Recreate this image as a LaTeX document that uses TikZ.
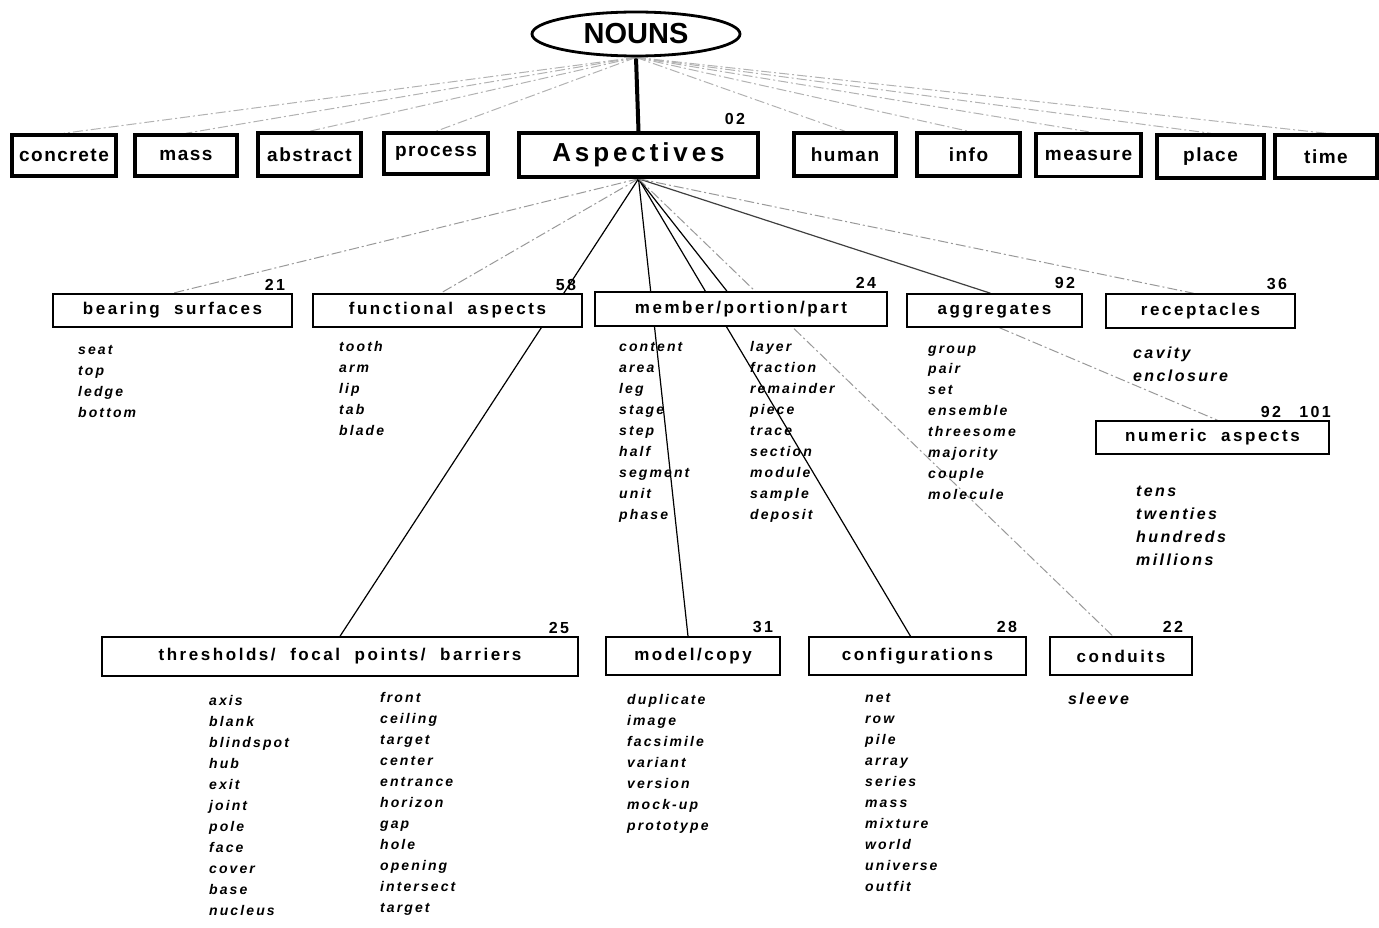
\documentclass[tikz,border=0pt]{standalone}
\usepackage{fontspec}
\setmainfont{Liberation Sans}
\newfontfamily\wide[LetterSpace=15,WordSpace=2]{Liberation Sans}
\newfontfamily\narrow[LetterSpace=8]{Liberation Sans}
\usetikzlibrary{shapes.geometric}
\pgfdeclarelayer{background}
\pgfsetlayers{background,main}

\begin{document}
\begin{tikzpicture}[x=1pt,y=-1pt,
  topbox/.style={draw, fill=white, line width=3.5pt, inner sep=0pt, minimum height=41pt,
    font=\narrow\bfseries\fontsize{19}{22}\selectfont},
  catbox/.style={draw, fill=white, line width=1.5pt, inner sep=0pt, minimum height=33pt,
    font=\wide\bfseries\fontsize{17}{20}\selectfont},
  code/.style={inner sep=0pt, font=\wide\bfseries\fontsize{16}{18}\selectfont},
  item/.style={inner sep=0pt, anchor=base west, font=\wide\bfseries\itshape\fontsize{14}{16}\selectfont},
  bigitem/.style={item, font=\wide\bfseries\itshape\fontsize{16}{18}\selectfont},
  link/.style={line width=1.2pt},
  faint/.style={line width=1pt, black!40, dash pattern=on 10pt off 3pt on 2pt off 3pt},
]
\useasboundingbox (0,0) rectangle (1379,928);

% root and first level
\node[draw, ellipse, line width=2.8pt, minimum width=208pt, minimum height=44pt, inner sep=0pt,
  font=\bfseries\fontsize{29}{32}\selectfont] (nouns) at (636,34) {NOUNS};

\node[topbox, minimum width=104pt] (concrete) at (64,155.5) {concrete};
\node[topbox, minimum width=102pt] (mass) at (186,155.5) {mass};
\node[topbox, minimum width=103pt, minimum height=43pt] (abstract) at (309.5,154.5) {abstract};
\node[topbox, minimum width=104pt] (process) at (436,153.5) {process};
\node[topbox, minimum width=239pt, minimum height=44pt,
  font=\wide\bfseries\fontsize{26}{30}\selectfont] (asp) at (638.5,155) {Aspectives};
\node[topbox, minimum width=102pt, minimum height=43pt] (human) at (845,154.5) {human};
\node[topbox, minimum width=103pt, minimum height=43pt] (info) at (968.5,154.5) {info};
\node[topbox, minimum width=105pt, minimum height=43pt] (measure) at (1088.5,155) {measure};
\node[topbox, minimum width=107pt, minimum height=43pt] (place) at (1210.5,156.5) {place};
\node[topbox, minimum width=102pt, minimum height=43pt] (time) at (1326,156.5) {time};
\node[code] (c02) at (735,119) {02};

% second level
\node[catbox, minimum width=239pt] (bs) at (172.5,310.5) {bearing surfaces};
\node[catbox, minimum width=269pt] (fa) at (447.5,310.5) {functional aspects};
\node[catbox, minimum width=292pt, minimum height=34pt] (mp) at (741,309) {member/portion/part};
\node[catbox, minimum width=175pt] (ag) at (994.5,310.5) {aggregates};
\node[catbox, minimum width=189pt, minimum height=34pt] (rc) at (1200.5,311) {receptacles};
\node[catbox, minimum width=233pt] (na) at (1212.5,437.5) {numeric aspects};

\node[code] (c21) at (275,285) {21};
\node[code] (c58) at (566,285) {58};
\node[code] (c24) at (866,283) {24};
\node[code] (c92) at (1065,283) {92};
\node[code] (c36) at (1277,284) {36};
\node[code] (c92b) at (1271,412) {92};
\node[code] (c101) at (1315,412) {101};

% third level
\node[catbox, minimum width=476pt, minimum height=39pt] (th) at (340,656.5) {thresholds/ focal points/ barriers};
\node[catbox, minimum width=174pt, minimum height=38pt] (mc) at (693,656) {model/copy};
\node[catbox, minimum width=217pt, minimum height=38pt] (cf) at (917.5,656) {configurations};
\node[catbox, minimum width=142pt, minimum height=38pt] (cd) at (1121,656) {conduits};

\node[code] (c25) at (559,628) {25};
\node[code] (c31) at (763,627) {31};
\node[code] (c28) at (1007,627) {28};
\node[code] (c22) at (1173,627) {22};

% word lists
\foreach \w [count=\i from 0] in {seat,top,ledge,bottom}
  \node[item] (bs-\i) at (78,354+21*\i) {\w};
\foreach \w [count=\i from 0] in {tooth,arm,lip,tab,blade}
  \node[item] (fa-\i) at (339,351+21*\i) {\w};
\foreach \w [count=\i from 0] in {content,area,leg,stage,step,half,segment,unit,phase}
  \node[item] (mpa-\i) at (619,351+21*\i) {\w};
\foreach \w [count=\i from 0] in {layer,fraction,remainder,piece,trace,section,module,sample,deposit}
  \node[item] (mpb-\i) at (750,351+21*\i) {\w};
\foreach \w [count=\i from 0] in {group,pair,set,ensemble,threesome,majority,couple,molecule}
  \node[item] (ag-\i) at (928,353+20.9*\i) {\w};
\foreach \w [count=\i from 0] in {cavity,enclosure}
  \node[bigitem] (rc-\i) at (1133,358+23*\i) {\w};
\foreach \w [count=\i from 0] in {tens,twenties,hundreds,millions}
  \node[bigitem] (na-\i) at (1136,496+23*\i) {\w};
\foreach \w [count=\i from 0] in {axis,blank,blindspot,hub,exit,joint,pole,face,cover,base,nucleus}
  \node[item] (tha-\i) at (209,705+21*\i) {\w};
\foreach \w [count=\i from 0] in {front,ceiling,target,center,entrance,horizon,gap,hole,opening,intersect,target}
  \node[item] (thb-\i) at (380,702+21*\i) {\w};
\foreach \w [count=\i from 0] in {duplicate,image,facsimile,variant,version,mock-up,prototype}
  \node[item] (mc-\i) at (627,704+21*\i) {\w};
\foreach \w [count=\i from 0] in {net,row,pile,array,series,mass,mixture,world,universe,outfit}
  \node[item] (cf-\i) at (865,702+21*\i) {\w};
\node[bigitem] (cd-0) at (1068,704) {sleeve};

% connectors
\begin{pgfonlayer}{background}
  \draw[line width=4pt] (nouns.south) -- (asp.north);
  \foreach \b in {concrete,mass,abstract,process,human,info,measure,place,time}
    \draw[faint, black!30] (nouns.south) -- (\b.north);
  \draw[faint] (asp.south) -- (bs.north);
  \draw[faint] (asp.south) -- ([xshift=-7pt]fa.north);
  \draw[link] (asp.south) -- ([xshift=-14pt]mp.north);
  \draw[link] (asp.south) -- (th.north);
  \draw[link] (asp.south) -- ([xshift=-5pt]mc.north);
  \draw[link] (asp.south) -- ([xshift=-7pt]cf.north);
  \draw[faint] (asp.south) -- ([xshift=-8pt]cd.north);
  \draw[link, black!75] (asp.south) -- ([xshift=-4pt]ag.north);
  \draw[faint] (asp.south) -- ([xshift=-7pt]rc.north);
  \draw[faint] ([xshift=5pt]ag.south) -- ([xshift=5pt]na.north);
\end{pgfonlayer}
\end{tikzpicture}
\end{document}
